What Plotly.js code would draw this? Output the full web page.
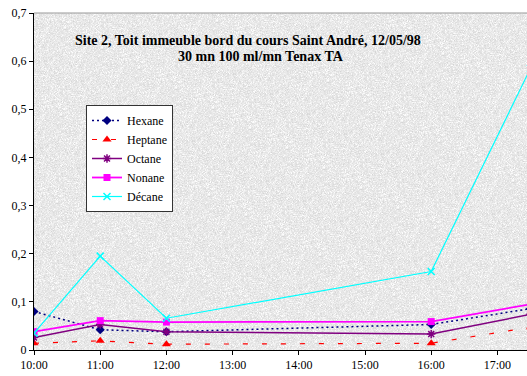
<!DOCTYPE html>
<html>
<head>
<meta charset="utf-8">
<script src="https://cdn.plot.ly/plotly-3.0.1.min.js"></script>
<style>
html,body{margin:0;padding:0;background:#fff;overflow:hidden;}
#chart{width:527px;height:376px;}
</style>
</head>
<body>
<div id="chart"></div>
<script>
// ---- data ----
var day = '1998-05-12';
var times = ['10:00', '11:00', '12:00', '16:00', '17:30'];
var hexane  = [0.080, 0.042, 0.038, 0.053, 0.086];
var heptane = [0.014, 0.019, 0.012, 0.014, 0.047];
var octane  = [0.026, 0.053, 0.038, 0.033, 0.074];
var nonane  = [0.038, 0.061, 0.058, 0.059, 0.095];
var decane  = [0.035, 0.195, 0.066, 0.163, 0.585];
var seriesNames = ['Hexane', 'Heptane', 'Octane', 'Nonane', 'Décane'];
var titleLine1 = 'Site 2, Toit immeuble bord du cours Saint André, 12/05/98';
var titleLine2 = '30 mn 100 ml/mn Tenax TA';

var xs = times.map(function(t){ return day + ' ' + t; });

// ---- granite-like background texture (deterministic) ----
function texture(w, h) {
  var c = document.createElement('canvas');
  c.width = w; c.height = h;
  var ctx = c.getContext('2d');
  var img = ctx.createImageData(w, h);
  var s = 12345;
  function rnd() { s = (s * 1103515245 + 12345) & 0x7fffffff; return s / 0x7fffffff; }
  for (var i = 0; i < w * h; i++) {
    var v = 232 + Math.round((rnd() - 0.5) * 20);
    if (rnd() < 0.06) v = 212 + Math.round(rnd() * 12);
    if (rnd() < 0.10) v = 244 + Math.round(rnd() * 10);
    img.data[i*4] = v; img.data[i*4+1] = v; img.data[i*4+2] = v; img.data[i*4+3] = 255;
  }
  ctx.putImageData(img, 0, 0);
  return c.toDataURL('image/png');
}

var serif = '"Liberation Serif", "Times New Roman", serif';

var traces = [
  {x: xs, y: hexane, name: seriesNames[0], mode: 'lines+markers',
   line: {color: '#000080', width: 1.5, dash: '2px,3px'},
   marker: {symbol: 'diamond', size: 7, color: '#000080'}},
  {x: xs, y: heptane, name: seriesNames[1], mode: 'lines+markers',
   line: {color: '#ff0000', width: 1.2, dash: '5px,14px'},
   marker: {symbol: 'triangle-up', size: 8, color: '#ff0000'}},
  {x: xs, y: octane, name: seriesNames[2], mode: 'lines+markers',
   line: {color: '#800080', width: 1.5},
   marker: {symbol: 'asterisk-open', size: 7, line: {color: '#800080', width: 1.5}}},
  {x: xs, y: nonane, name: seriesNames[3], mode: 'lines+markers',
   line: {color: '#ff00ff', width: 1.8},
   marker: {symbol: 'square', size: 7, color: '#ff00ff'}},
  {x: xs, y: decane, name: seriesNames[4], mode: 'lines+markers',
   line: {color: '#00ffff', width: 1.2},
   marker: {symbol: 'x-thin-open', size: 7, line: {color: '#00e5e5', width: 1.5}}}
];

var L = 34, R = 0, T = 13, B = 26, W = 527, H = 376;
var pw = W - L - R, ph = H - T - B;
function px2x(p) { return (p - L) / pw; }
function py2y(p) { return (H - B - p) / ph; }

var layout = {
  width: W, height: H,
  margin: {l: L, r: R, t: T, b: B, pad: 0},
  paper_bgcolor: '#ffffff',
  plot_bgcolor: '#e6e6e6',
  separators: ', ',
  font: {family: serif, size: 12, color: '#000'},
  showlegend: true,
  xaxis: {
    type: 'date',
    range: [day + ' 10:00', day + ' 17:26:50'],
    tickformat: '%H:%M',
    dtick: 3600000,
    tick0: day + ' 10:00',
    ticks: 'outside', ticklen: 4, tickcolor: '#000', tickwidth: 1,
    showline: true, linecolor: '#000', linewidth: 1,
    showgrid: false, zeroline: false,
    tickfont: {family: serif, size: 12, color: '#000'},
    fixedrange: true
  },
  yaxis: {
    range: [0, 0.7],
    dtick: 0.1,
    ticks: 'outside', ticklen: 4, tickcolor: '#000', tickwidth: 1,
    showline: true, linecolor: '#000', linewidth: 1,
    showgrid: false, zeroline: false,
    tickfont: {family: serif, size: 12, color: '#000'},
    fixedrange: true
  },
  legend: {
    x: px2x(86), y: py2y(105), xanchor: 'left', yanchor: 'top',
    bgcolor: '#ffffff', bordercolor: '#333', borderwidth: 1,
    font: {family: serif, size: 12, color: '#000'},
    itemwidth: 30, tracegroupgap: 0
  },
  shapes: [
    {type: 'line', xref: 'paper', yref: 'paper', x0: 0, x1: 1, y0: 1, y1: 1,
     line: {color: '#999999', width: 1}}
  ],
  annotations: [
    {xref: 'paper', yref: 'paper', x: px2x(248), y: py2y(40), text: '<b>' + titleLine1 + '</b>',
     showarrow: false, xanchor: 'center', yanchor: 'middle',
     font: {family: serif, size: 14, color: '#000'}},
    {xref: 'paper', yref: 'paper', x: px2x(261), y: py2y(57), text: '<b>' + titleLine2 + '</b>',
     showarrow: false, xanchor: 'center', yanchor: 'middle',
     font: {family: serif, size: 14, color: '#000'}}
  ],
  images: [
    {source: texture(pw, ph), xref: 'paper', yref: 'paper', x: 0, y: 1,
     sizex: 1, sizey: 1, sizing: 'stretch', xanchor: 'left', yanchor: 'top', layer: 'below'}
  ]
};

Plotly.newPlot('chart', traces, layout, {displayModeBar: false, staticPlot: true});
</script>
</body>
</html>
